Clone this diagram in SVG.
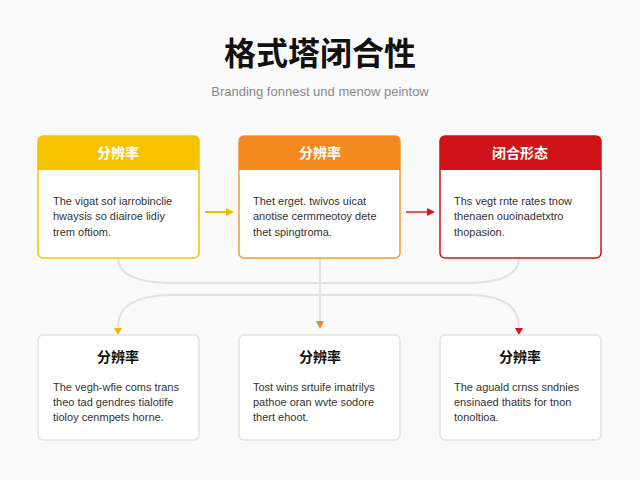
<svg xmlns="http://www.w3.org/2000/svg" width="640" height="480" viewBox="0 0 640 480">
<style>
.t{font-family:"Liberation Sans","Noto Sans CJK SC",sans-serif}
.hd{font-size:14px;font-weight:bold;fill:#fff;text-anchor:middle}
.hb{font-size:14px;font-weight:bold;fill:#111;text-anchor:middle}
.bd{font-size:11px;fill:#333}
.card{fill:#fff;stroke-width:1.5}
.con{fill:none;stroke:#e2e2e2;stroke-width:2}
</style>
<defs>
<marker id="ay" markerWidth="8" markerHeight="8" refX="6" refY="4" orient="auto" markerUnits="userSpaceOnUse"><path d="M0,0L8,4L0,8z" fill="#f5b800"/></marker>
<marker id="ao" markerWidth="8" markerHeight="8" refX="6" refY="4" orient="auto" markerUnits="userSpaceOnUse"><path d="M0,0L8,4L0,8z" fill="#f08a1c"/></marker>
<marker id="ar" markerWidth="8" markerHeight="8" refX="6" refY="4" orient="auto" markerUnits="userSpaceOnUse"><path d="M0,0L8,4L0,8z" fill="#d0161a"/></marker>
</defs>
<rect width="640" height="480" fill="#fafafa"/>
<text class="t" x="320" y="65" font-size="32" font-weight="bold" text-anchor="middle" fill="#111">格式塔闭合性</text>
<text class="t" x="320" y="96" font-size="13" text-anchor="middle" fill="#888">Branding fonnest und menow peintow</text>
<g id="connectors">
<path class="con" d="M118,258 Q118,282 170,283 L470,283 Q519,282 519,258"/>
<path class="con" d="M320,258 L320,327" marker-end="url(#ao)"/>
<path class="con" d="M118,327 Q118,296 170,295 L470,295 Q519,296 519,327"/>
<path d="M114,328 L122,328 L118,335z" fill="#f5b800"/>
<path d="M515,328 L523,328 L519,335z" fill="#d0161a"/>
<path d="M205,212 L232,212" stroke="#f5b800" stroke-width="2" marker-end="url(#ay)"/>
<path d="M406,212 L433,212" stroke="#ec5a4a" stroke-width="2" marker-end="url(#ar)"/>
</g>
<g id="n1">
<rect class="card" x="38" y="136" width="161" height="122" rx="5" stroke="#f5c400"/>
<path d="M38,170 L38,141 Q38,136 43,136 L194,136 Q199,136 199,141 L199,170z" fill="#f7c300"/>
<text class="t hd" x="118" y="158">分辨率</text>
<text class="t bd" x="53" y="205">The vigat sof iarrobinclie</text>
<text class="t bd" x="53" y="220">hwaysis so  diairoe lidiy</text>
<text class="t bd" x="53" y="236">trem oftiom.</text>
</g>
<g id="n2">
<rect class="card" x="239" y="136" width="161" height="122" rx="5" stroke="#f39a3a"/>
<path d="M239,170 L239,141 Q239,136 244,136 L395,136 Q400,136 400,141 L400,170z" fill="#f38a20"/>
<text class="t hd" x="320" y="158">分辨率</text>
<text class="t bd" x="253" y="205">Thet erget. twivos uicat</text>
<text class="t bd" x="253" y="220">anotise cermmeotoy dete</text>
<text class="t bd" x="253" y="236">thet spingtroma.</text>
</g>
<g id="n3">
<rect class="card" x="440" y="136" width="161" height="122" rx="5" stroke="#d0161a"/>
<path d="M440,170 L440,141 Q440,136 445,136 L596,136 Q601,136 601,141 L601,170z" fill="#cf1318"/>
<text class="t hd" x="520" y="158">闭合形态</text>
<text class="t bd" x="454" y="205">Ths vegt rnte rates tnow</text>
<text class="t bd" x="454" y="220">thenaen ouoinadetxtro</text>
<text class="t bd" x="454" y="236">thopasion.</text>
</g>
<g id="n4">
<rect class="card" x="38" y="335" width="161" height="105" rx="5" stroke="#e2e2e2"/>
<text class="t hb" x="118" y="362">分辨率</text>
<text class="t bd" x="53" y="391">The vegh-wfie coms trans</text>
<text class="t bd" x="53" y="406">theo tad gendres tialotife</text>
<text class="t bd" x="53" y="421">tioloy cenmpets horne.</text>
</g>
<g id="n5">
<rect class="card" x="239" y="335" width="161" height="105" rx="5" stroke="#e2e2e2"/>
<text class="t hb" x="320" y="362">分辨率</text>
<text class="t bd" x="253" y="391">Tost wins srtuife imatrilys</text>
<text class="t bd" x="253" y="406">pathoe oran wvte sodore</text>
<text class="t bd" x="253" y="421">thert ehoot.</text>
</g>
<g id="n6">
<rect class="card" x="440" y="335" width="161" height="105" rx="5" stroke="#e2e2e2"/>
<text class="t hb" x="520" y="362">分辨率</text>
<text class="t bd" x="454" y="391">The aguald crnss sndnies</text>
<text class="t bd" x="454" y="406">ensinaed thatits for tnon</text>
<text class="t bd" x="454" y="421">tonoltioa.</text>
</g>
</svg>
